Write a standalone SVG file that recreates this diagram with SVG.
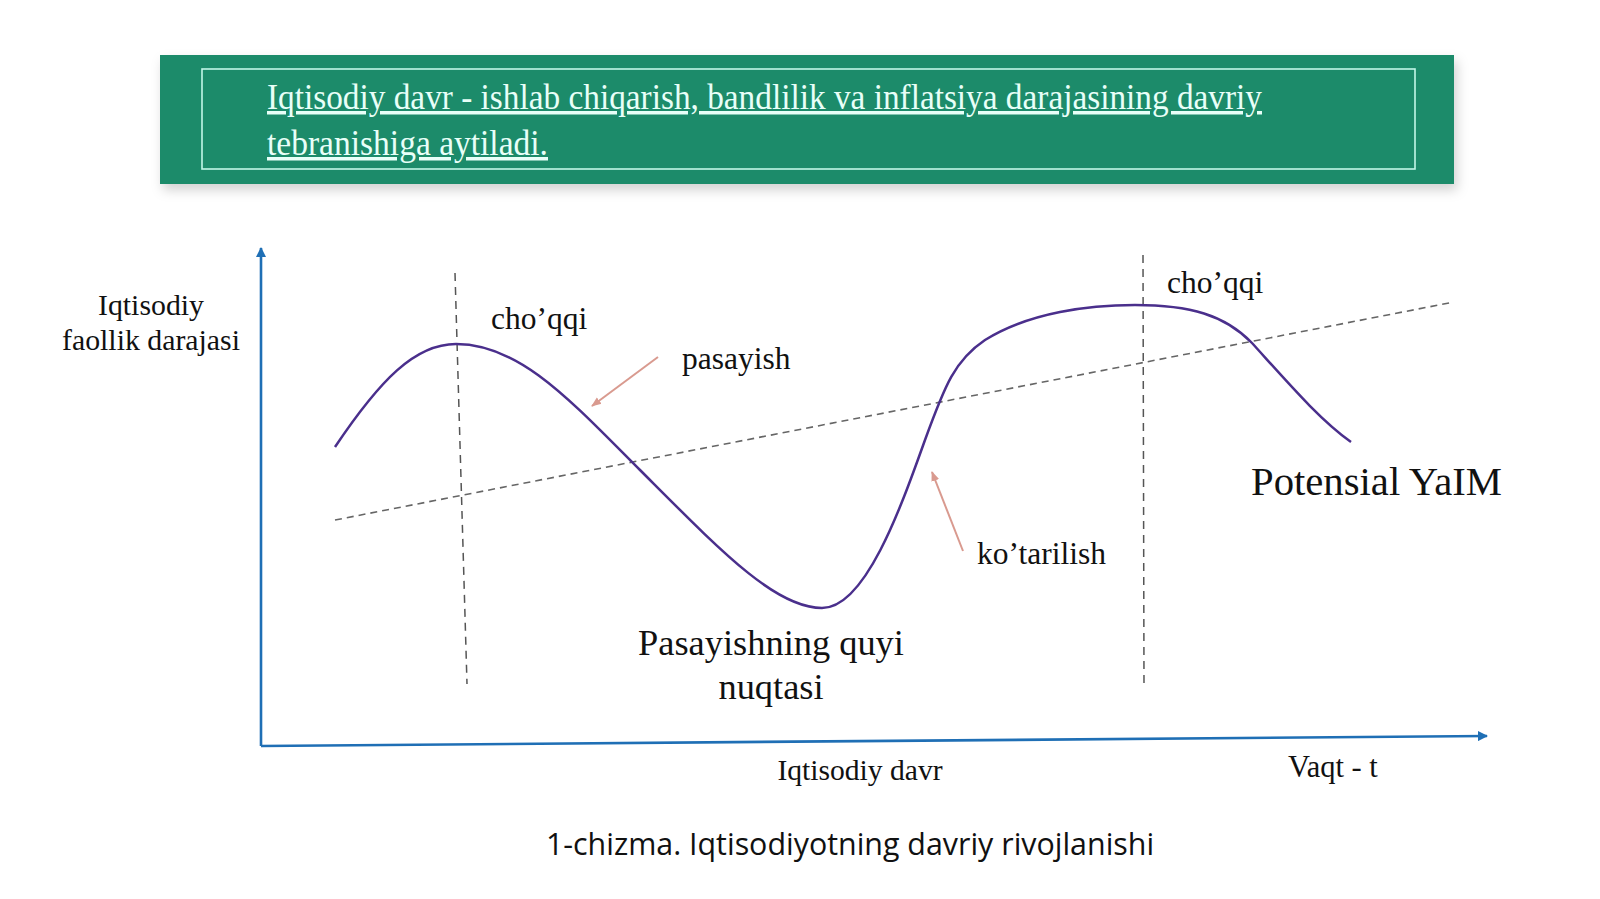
<svg xmlns="http://www.w3.org/2000/svg" width="1600" height="899" viewBox="0 0 1600 899">
<defs>
<filter id="shadow" x="-5%" y="-20%" width="110%" height="150%">
<feDropShadow dx="3" dy="6" stdDeviation="6" flood-color="#000" flood-opacity="0.18"/>
</filter>
<marker id="blueArrow" viewBox="0 0 10 10" refX="9" refY="5" markerWidth="4" markerHeight="4" orient="auto">
<path d="M0,0 L10,5 L0,10 z" fill="#1f6fb5"/>
</marker>
<marker id="redArrow" viewBox="0 0 10 10" refX="9" refY="5" markerWidth="5" markerHeight="5" orient="auto">
<path d="M0,1 L10,5 L0,9 z" fill="#d99a8f"/>
</marker>
</defs>
<style>
.lbl{font-family:"Liberation Serif","Times New Roman",serif;fill:#111;}
.banner{font-family:"Liberation Serif","Times New Roman",serif;fill:#e8fff8;font-size:35px;text-decoration:underline;}
.cap{font-family:"Open Sans","Noto Sans",sans-serif;fill:#111;font-size:30.4px;}
.curve{fill:none;stroke:#4a2f8c;stroke-width:2.5;}
.trend{fill:none;stroke:#666;stroke-width:1.6;stroke-dasharray:7,5;}
.vdash{fill:none;stroke:#555;stroke-width:1.5;stroke-dasharray:8,6;}
.axis{fill:none;stroke:#1f6fb5;stroke-width:2.6;}
.pointer{fill:none;stroke:#d99a8f;stroke-width:2;}
</style>
<rect width="1600" height="899" fill="#ffffff"/>

<g id="banner">
<rect x="160" y="55" width="1294" height="129" fill="#1b8b6b" filter="url(#shadow)"/>
<rect x="202" y="69" width="1213" height="100" fill="none" stroke="#c2f7e8" stroke-width="1.6"/>
<text class="banner" x="267" y="109" textLength="995" lengthAdjust="spacingAndGlyphs">Iqtisodiy davr - ishlab chiqarish, bandlilik va inflatsiya darajasining davriy</text>
<text class="banner" x="267" y="155" textLength="281" lengthAdjust="spacingAndGlyphs">tebranishiga aytiladi.</text>
</g>

<g id="connectors">
<line class="axis" x1="261" y1="746" x2="261" y2="248" marker-end="url(#blueArrow)"/>
<line class="axis" x1="261" y1="746" x2="1487" y2="736" marker-end="url(#blueArrow)"/>
<line class="trend" x1="335" y1="520" x2="1454" y2="302"/>
<line class="vdash" x1="455" y1="273" x2="467" y2="684"/>
<line class="vdash" x1="1143" y1="255" x2="1144" y2="687"/>
<path class="curve" d="M335,447 C380,380 415,344 456,344 C520,344 570,400 640,470 C720,550 775,608 822,608 C865,608 900,510 925,440 C945,385 955,360 985,340 C1030,312 1090,305 1135,305 C1190,305 1225,315 1252,343 C1290,385 1320,420 1351,442"/>
<line class="pointer" x1="658" y1="357" x2="592" y2="406" marker-end="url(#redArrow)"/>
<line class="pointer" x1="963" y1="551" x2="932" y2="472" marker-end="url(#redArrow)"/>
</g>

<g id="label-yaxis">
<text class="lbl" x="151" y="315" font-size="29.8" text-anchor="middle">Iqtisodiy</text>
<text class="lbl" x="151" y="350" font-size="29.8" text-anchor="middle">faollik darajasi</text>
</g>
<g id="label-peak1"><text class="lbl" x="491" y="329" font-size="31.5">cho’qqi</text></g>
<g id="label-pasayish"><text class="lbl" x="682" y="369" font-size="31.5">pasayish</text></g>
<g id="label-peak2"><text class="lbl" x="1167" y="293" font-size="31.5">cho’qqi</text></g>
<g id="label-kotarilish"><text class="lbl" x="977" y="564" font-size="31.5">ko’tarilish</text></g>
<g id="label-potensial"><text class="lbl" x="1251" y="495" font-size="40.7">Potensial YaIM</text></g>
<g id="label-trough">
<text class="lbl" x="771" y="655" font-size="36.4" text-anchor="middle">Pasayishning quyi</text>
<text class="lbl" x="771" y="699" font-size="36.4" text-anchor="middle">nuqtasi</text>
</g>
<g id="label-xaxis"><text class="lbl" x="860" y="780" font-size="29.6" text-anchor="middle">Iqtisodiy davr</text></g>
<g id="label-time"><text class="lbl" x="1288" y="777" font-size="30.5">Vaqt - t</text></g>
<g id="caption"><text class="cap" x="850" y="855" text-anchor="middle">1-chizma. Iqtisodiyotning davriy rivojlanishi</text></g>
</svg>
